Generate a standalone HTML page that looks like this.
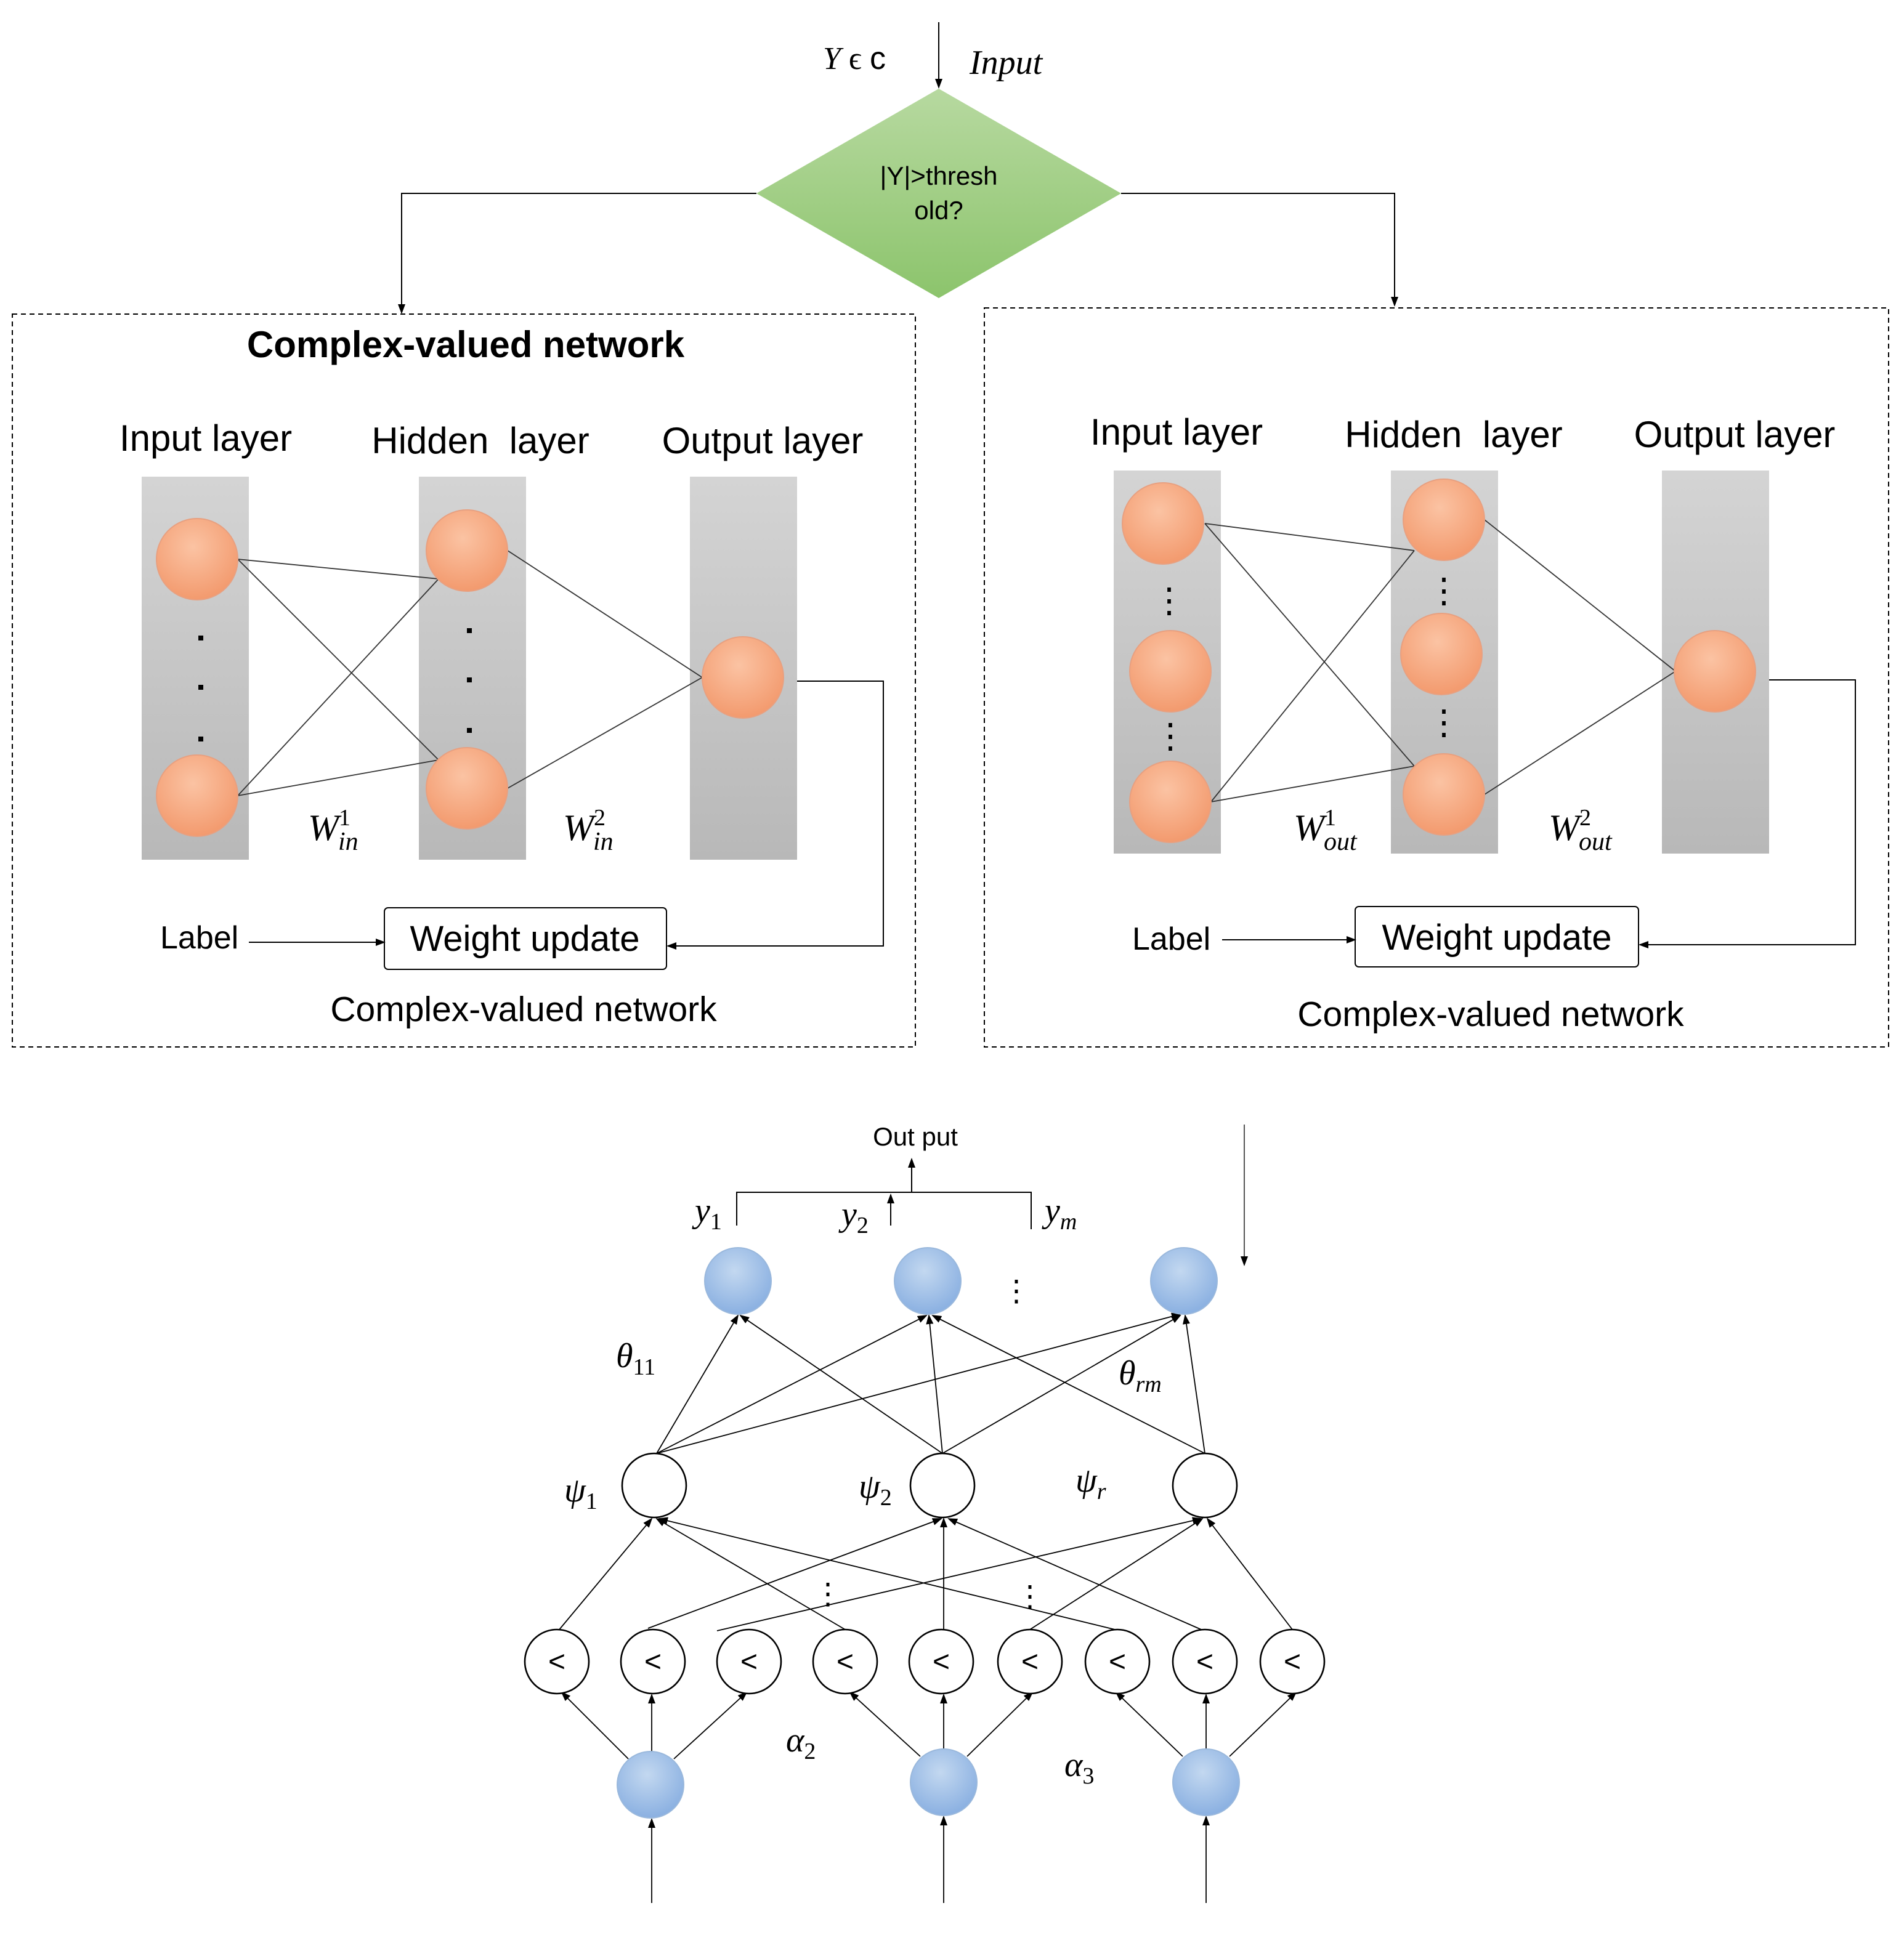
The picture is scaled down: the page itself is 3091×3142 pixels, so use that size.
<!DOCTYPE html>
<html><head><meta charset="utf-8"><style>html,body{margin:0;padding:0;background:#fff}svg{display:block}</style></head><body>
<svg width="3091" height="3142" viewBox="0 0 1545.5 1571" xmlns="http://www.w3.org/2000/svg" font-family="Liberation Sans, sans-serif">
<defs>
<marker id="a" markerWidth="8" markerHeight="8" refX="7" refY="4" orient="auto" markerUnits="userSpaceOnUse"><path d="M0,1 L8,4 L0,7 z" fill="#000"/></marker>
<linearGradient id="g" x1="0" y1="0" x2="0" y2="1"><stop offset="0" stop-color="#b7d9a0"/><stop offset="1" stop-color="#8cc46c"/></linearGradient>
<linearGradient id="gr" x1="0" y1="0" x2="0" y2="1"><stop offset="0" stop-color="#d4d4d4"/><stop offset="1" stop-color="#b8b8b8"/></linearGradient>
<radialGradient id="o" cx="0.45" cy="0.35" r="0.7"><stop offset="0" stop-color="#fbc3a3"/><stop offset="1" stop-color="#f2976a"/></radialGradient>
<radialGradient id="b" cx="0.45" cy="0.35" r="0.7"><stop offset="0" stop-color="#c3d8f0"/><stop offset="1" stop-color="#86ade0"/></radialGradient>
</defs>
<g stroke="#000" stroke-width="1" fill="none">
<line x1="762" y1="18" x2="762" y2="71" marker-end="url(#a)"/>
<polyline points="614,157 326,157 326,254" marker-end="url(#a)"/>
<polyline points="910,157 1132,157 1132,248" marker-end="url(#a)"/>
<rect x="10" y="255" width="733" height="595" stroke-dasharray="4,3"/>
<rect x="799" y="250" width="734" height="600" stroke-dasharray="4,3"/>
</g>
<polygon points="762,72 910,157 762,242 614,157" fill="url(#g)"/>
<text x="668" y="56" font-size="26" font-family="Liberation Serif, serif" font-style="italic">Y <tspan font-style="normal">ϵ</tspan> <tspan font-family="Liberation Sans" font-style="normal">c</tspan></text>
<text x="787" y="60" font-size="28" font-family="Liberation Serif, serif" font-style="italic">Input</text>
<text x="762" y="150" font-size="21" text-anchor="middle">|Y|&gt;thresh</text>
<text x="762" y="178" font-size="21" text-anchor="middle">old?</text>
<text x="378" y="290" font-size="30" font-weight="bold" text-anchor="middle">Complex-valued network</text>
<g font-size="30" text-anchor="middle">
<text x="167" y="366">Input layer</text><text x="390" y="368">Hidden&#160;&#160;layer</text><text x="619" y="368">Output layer</text>
<text x="955" y="361">Input layer</text><text x="1180" y="363">Hidden&#160;&#160;layer</text><text x="1408" y="363">Output layer</text>
</g>
<g fill="url(#gr)">
<rect x="115" y="387" width="87" height="311"/><rect x="340" y="387" width="87" height="311"/><rect x="560" y="387" width="87" height="311"/>
<rect x="904" y="382" width="87" height="311"/><rect x="1129" y="382" width="87" height="311"/><rect x="1349" y="382" width="87" height="311"/>
</g>
<g stroke="#333" stroke-width="0.9">
<line x1="193" y1="454" x2="356" y2="470"/><line x1="193" y1="454" x2="356" y2="617"/><line x1="193" y1="646" x2="356" y2="470"/><line x1="193" y1="646" x2="356" y2="617"/>
<line x1="412" y1="447" x2="570" y2="550"/><line x1="412" y1="640" x2="570" y2="550"/>
<line x1="978" y1="425" x2="1148" y2="447"/><line x1="978" y1="425" x2="1148" y2="622"/><line x1="983" y1="651" x2="1148" y2="447"/><line x1="983" y1="651" x2="1148" y2="622"/>
<line x1="1205" y1="422" x2="1360" y2="545"/><line x1="1205" y1="645" x2="1360" y2="545"/>
</g>
<g fill="url(#o)" stroke="#e8a080" stroke-width="1">
<circle cx="160" cy="454" r="33"/><circle cx="160" cy="646" r="33"/><circle cx="379" cy="447" r="33"/><circle cx="379" cy="640" r="33"/><circle cx="603" cy="550" r="33"/>
<circle cx="944" cy="425" r="33"/><circle cx="950" cy="545" r="33"/><circle cx="950" cy="651" r="33"/>
<circle cx="1172" cy="422" r="33"/><circle cx="1170" cy="531" r="33"/><circle cx="1172" cy="645" r="33"/><circle cx="1392" cy="545" r="33"/>
</g>
<g fill="#000">
<rect x="161" y="516" width="4" height="4"/><rect x="161" y="556" width="4" height="4"/><rect x="161" y="598" width="4" height="4"/>
<rect x="379" y="510" width="4" height="4"/><rect x="379" y="550" width="4" height="4"/><rect x="379" y="591" width="4" height="4"/>
</g>
<g font-size="28" text-anchor="middle"><text x="949" y="497">⋮</text><text x="950" y="607">⋮</text><text x="1172" y="489">⋮</text><text x="1172" y="596">⋮</text></g>
<g font-family="Liberation Serif, serif" font-style="italic" font-size="30">
<text x="250" y="682">W<tspan font-size="19" dy="-12" font-style="normal">1</tspan><tspan font-size="21" dx="-10" dy="20">in</tspan></text>
<text x="457" y="682">W<tspan font-size="19" dy="-12" font-style="normal">2</tspan><tspan font-size="21" dx="-10" dy="20">in</tspan></text>
<text x="1050" y="682">W<tspan font-size="19" dy="-12" font-style="normal">1</tspan><tspan font-size="21" dx="-10" dy="20">out</tspan></text>
<text x="1257" y="682">W<tspan font-size="19" dy="-12" font-style="normal">2</tspan><tspan font-size="21" dx="-10" dy="20">out</tspan></text>
</g>
<g stroke="#000" stroke-width="1" fill="none">
<polyline points="647,553 717,553 717,768 542,768" marker-end="url(#a)"/>
<line x1="202" y1="765" x2="312" y2="765" marker-end="url(#a)"/>
<rect x="312" y="737" width="229" height="50" rx="3"/>
<polyline points="1436,552 1506,552 1506,767 1331,767" marker-end="url(#a)"/>
<line x1="992" y1="763" x2="1100" y2="763" marker-end="url(#a)"/>
<rect x="1100" y="736" width="230" height="49" rx="3"/>
</g>
<g font-size="26">
<text x="130" y="770">Label</text><text x="426" y="772" text-anchor="middle" font-size="29">Weight update</text>
<text x="425" y="829" text-anchor="middle" font-size="28.5">Complex-valued network</text>
<text x="919" y="771">Label</text><text x="1215" y="771" text-anchor="middle" font-size="29">Weight update</text>
<text x="1210" y="833" text-anchor="middle" font-size="28.5">Complex-valued network</text>
</g>
<text x="743" y="930" font-size="21" text-anchor="middle">Out put</text>
<g stroke="#000" stroke-width="1" fill="none">
<line x1="740" y1="968" x2="740" y2="941" marker-end="url(#a)"/>
<polyline points="598,995 598,968 837,968 837,998"/>
<line x1="723" y1="995" x2="723" y2="970" marker-end="url(#a)"/>
<line x1="1010" y1="913" x2="1010" y2="1027" stroke="#555" marker-end="url(#a)"/>
</g>
<g font-family="Liberation Serif, serif" font-style="italic" font-size="28">
<text x="564" y="992">y<tspan font-size="19" font-style="normal" dy="6">1</tspan></text>
<text x="683" y="995">y<tspan font-size="19" font-style="normal" dy="6">2</tspan></text>
<text x="848" y="992">y<tspan font-size="19" dy="6">m</tspan></text>
<text x="500" y="1110">θ<tspan font-size="19" font-style="normal" dy="6">11</tspan></text>
<text x="908" y="1124">θ<tspan font-size="19" dy="6">rm</tspan></text>
<text x="458" y="1219">ψ<tspan font-size="19" font-style="normal" dy="6">1</tspan></text>
<text x="697" y="1216">ψ<tspan font-size="19" font-style="normal" dy="6">2</tspan></text>
<text x="873" y="1211">ψ<tspan font-size="19" dy="6">r</tspan></text>
<text x="638" y="1422">α<tspan font-size="19" font-style="normal" dy="6">2</tspan></text>
<text x="864" y="1442">α<tspan font-size="19" font-style="normal" dy="6">3</tspan></text>
</g>
<g stroke="#000" stroke-width="0.9" fill="none" marker-end="url(#a)">
<line x1="533" y1="1180" x2="599" y2="1068"/><line x1="533" y1="1180" x2="752" y2="1068"/><line x1="533" y1="1180" x2="958" y2="1067"/>
<line x1="765" y1="1180" x2="601" y2="1068"/><line x1="765" y1="1180" x2="754" y2="1068"/><line x1="765" y1="1180" x2="958" y2="1068"/>
<line x1="978" y1="1180" x2="757" y2="1068"/><line x1="978" y1="1180" x2="962" y2="1068"/>
<line x1="454" y1="1323" x2="529" y2="1233"/><line x1="526" y1="1322" x2="764" y2="1233"/><line x1="582" y1="1324" x2="975" y2="1233"/>
<line x1="686" y1="1323" x2="533" y2="1233"/><line x1="766" y1="1323" x2="766" y2="1233"/><line x1="836" y1="1323" x2="976" y2="1233"/>
<line x1="905" y1="1323" x2="535" y2="1233"/><line x1="975" y1="1323" x2="770" y2="1233"/><line x1="1049" y1="1323" x2="980" y2="1233"/>
<line x1="510" y1="1428" x2="456" y2="1374"/><line x1="529" y1="1422" x2="529" y2="1376"/><line x1="547" y1="1428" x2="606" y2="1374"/>
<line x1="747" y1="1426" x2="690" y2="1374"/><line x1="766" y1="1420" x2="766" y2="1376"/><line x1="785" y1="1426" x2="838" y2="1374"/>
<line x1="960" y1="1426" x2="906" y2="1374"/><line x1="979" y1="1420" x2="979" y2="1376"/><line x1="998" y1="1426" x2="1052" y2="1374"/>
<line x1="529" y1="1545" x2="529" y2="1477"/><line x1="766" y1="1545" x2="766" y2="1475"/><line x1="979" y1="1545" x2="979" y2="1475"/>
</g>
<g fill="url(#b)" stroke="#9ab8dc">
<circle cx="599" cy="1040" r="27"/><circle cx="753" cy="1040" r="27"/><circle cx="961" cy="1040" r="27"/>
<circle cx="528" cy="1449" r="27"/><circle cx="766" cy="1447" r="27"/><circle cx="979" cy="1447" r="27"/>
</g>
<g fill="#fff" stroke="#000" stroke-width="1.3">
<circle cx="531" cy="1206" r="26"/><circle cx="765" cy="1206" r="26"/><circle cx="978" cy="1206" r="26"/>
<circle cx="452" cy="1349" r="26"/><circle cx="530" cy="1349" r="26"/><circle cx="608" cy="1349" r="26"/><circle cx="686" cy="1349" r="26"/><circle cx="764" cy="1349" r="26"/><circle cx="836" cy="1349" r="26"/><circle cx="907" cy="1349" r="26"/><circle cx="978" cy="1349" r="26"/><circle cx="1049" cy="1349" r="26"/>
</g>
<g font-size="24" text-anchor="middle">
<text x="452" y="1357">&lt;</text><text x="530" y="1357">&lt;</text><text x="608" y="1357">&lt;</text><text x="686" y="1357">&lt;</text><text x="764" y="1357">&lt;</text><text x="836" y="1357">&lt;</text><text x="907" y="1357">&lt;</text><text x="978" y="1357">&lt;</text><text x="1049" y="1357">&lt;</text>
<text x="825" y="1056">⋮</text><text x="672" y="1302">⋮</text><text x="836" y="1304">⋮</text>
</g>
</svg>
</body></html>
